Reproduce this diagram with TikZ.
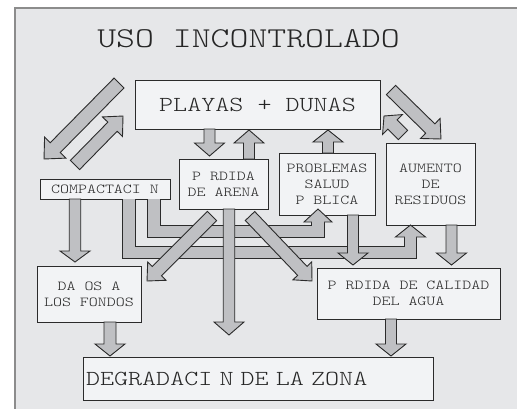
\documentclass[tikz,border=0pt]{standalone}
\usepackage{fontspec}
\setmonofont{lmmonolt10-regular.otf}[FakeStretch=1.25]
\usetikzlibrary{calc}
\definecolor{framebg}{HTML}{E6E7E9}
\definecolor{boxbg}{HTML}{F2F3F5}
\definecolor{arrfill}{HTML}{BFC0C3}
\definecolor{ink}{HTML}{2B2B2B}
\definecolor{txt}{HTML}{262626}
\definecolor{framebd}{HTML}{8C8C8C}
\tikzset{
  boxsty/.style={draw=ink, fill=boxbg, line width=0.9pt, inner sep=0pt, text=txt, align=center,
    font=\ttfamily\fontsize{13.7}{16}\selectfont},
  bigtxt/.style={font=\ttfamily\fontsize{21.4}{26}\selectfont},
  arrsty/.style={draw=ink, fill=arrfill, line width=0.9pt, line join=miter},
  bandout/.style={draw=ink, line width=13.3pt, line join=miter},
  bandin/.style={draw=arrfill, line width=11.5pt, line join=miter}
}
% straight block arrow: #1 tail coord, #2 tip coord, #3 shaft half width, #4 head half width, #5 head length
\newcommand\blkarrow[5]{%
  \pgfpointanchor{#1}{center}\pgfgetlastxy{\axx}{\ayy}%
  \pgfpointanchor{#2}{center}\pgfgetlastxy{\bxx}{\byy}%
  \pgfmathsetmacro\arrang{atan2(\byy-\ayy,\bxx-\axx)}%
  \pgfmathsetmacro\arrlen{veclen(\bxx-\axx,\byy-\ayy)}%
  \begin{scope}[shift={(\axx,\ayy)}, rotate=\arrang]
    \draw[arrsty] (0pt,{-#3pt}) -- ({\arrlen pt-#5pt},{-#3pt}) -- ({\arrlen pt-#5pt},{-#4pt})
      -- (\arrlen pt,0pt) -- ({\arrlen pt-#5pt},{#4pt}) -- ({\arrlen pt-#5pt},{#3pt}) -- (0pt,{#3pt}) -- cycle;
  \end{scope}}
\begin{document}
\begin{tikzpicture}[x=1pt,y=-1pt]
\useasboundingbox (0,0) rectangle (517,408);
\begin{scope}
\clip (0,0) rectangle (517,408);
\fill[framebg] (15,8) rectangle (540,430);
\draw[framebd, line width=1.6pt] (15,430) -- (15,8) -- (540,8);
\end{scope}

\node[text=txt, inner sep=0pt, font=\ttfamily\fontsize{28.8}{34}\selectfont] (title) at (248.5,39) {USO INCONTROLADO};

\node[boxsty, bigtxt, minimum width=245pt, minimum height=49pt] (playas) at (257.5,104.5) {PLAYAS + DUNAS};
\node[boxsty, minimum width=130pt, minimum height=20pt] (comp) at (105,189) {COMPACTACI N};
\node[boxsty, minimum width=89pt, minimum height=50pt] (arena) at (223.5,184) {P RDIDA\\DE ARENA};
\node[boxsty, minimum width=96pt, minimum height=62pt] (salud) at (327,184) {PROBLEMAS\\SALUD\\P BLICA};
\node[boxsty, minimum width=89pt, minimum height=82pt] (resid) at (430.5,184) {AUMENTO\\DE\\RESIDUOS};
\node[boxsty, minimum width=104pt, minimum height=56pt] (danos) at (89,294) {DA OS A\\LOS FONDOS};
\node[boxsty, minimum width=183pt, minimum height=51pt] (calidad) at (408.5,293.5) {P RDIDA DE CALIDAD\\DEL AGUA};
\node[boxsty, bigtxt, text width=344pt, inner xsep=3pt, align=left, minimum height=43pt] (degr) at (258,378.5) {DEGRADACI N DE LA ZONA};

% elbow arrows from COMPACTACION
\coordinate (o1) at (129,199.45);
\coordinate (o2) at (410.5,252.5);
\coordinate (o3) at (410.5,237);
\coordinate (o4) at (410.5,225);
\coordinate (i1) at (154,199.45);
\coordinate (i2) at (318,231.5);
\coordinate (i3) at (318,222);
\coordinate (i4) at (318,209);
\draw[bandout] (o1) |- (o2) -- (o3);
\draw[arrsty] ($(o3)+(-15,0)$) -- ($(o3)+(15,0)$) -- (o4) -- cycle;
\draw[bandin] (o1) |- (o2) -- ($(o3)+(0,-0.6)$);
\draw[bandout] (i1) |- (i2) -- (i3);
\draw[arrsty] ($(i3)+(-14,0)$) -- ($(i3)+(14,0)$) -- (i4) -- cycle;
\draw[bandin] (i1) |- (i2) -- ($(i3)+(0,-0.6)$);

% straight block arrows
\coordinate (a1s) at (119,83);   \coordinate (a1e) at (44,159);
\coordinate (a2s) at (75,165);   \coordinate (a2e) at (123,116);
\coordinate (a3s) at (391,90);   \coordinate (a3e) at (441,139);
\coordinate (a4s) at (403,135);  \coordinate (a4e) at (384,116);
\coordinate (a5s) at (209.5,129); \coordinate (a5e) at (209.5,156);
\coordinate (a6s) at (249,159);  \coordinate (a6e) at (249,130);
\coordinate (a7s) at (328,153);  \coordinate (a7e) at (328,130);
\coordinate (a8s) at (75,199);   \coordinate (a8e) at (75,262);
\coordinate (a9s) at (212,216);  \coordinate (a9e) at (147,281);
\coordinate (a10s) at (229,209); \coordinate (a10e) at (229,335);
\coordinate (a11s) at (250,216); \coordinate (a11e) at (312,281);
\coordinate (a12s) at (353,215); \coordinate (a12e) at (353,265);
\coordinate (a13s) at (451.5,225); \coordinate (a13e) at (451.5,265);
\coordinate (a14s) at (110,322); \coordinate (a14e) at (110,356);
\coordinate (a15s) at (391,319); \coordinate (a15e) at (391,356);

\blkarrow{a1s}{a1e}{7}{15}{16}
\blkarrow{a2s}{a2e}{6.5}{14}{15}
\blkarrow{a3s}{a3e}{6.5}{14}{15}
\blkarrow{a4s}{a4e}{6.5}{14}{12}
\blkarrow{a5s}{a5e}{5.5}{15}{13}
\blkarrow{a6s}{a6e}{5.5}{15}{13}
\blkarrow{a7s}{a7e}{5.5}{15}{12}
\blkarrow{a8s}{a8e}{5.75}{15}{11}
\blkarrow{a9s}{a9e}{6.5}{13}{14}
\blkarrow{a10s}{a10e}{5.75}{15}{13}
\blkarrow{a11s}{a11e}{6.5}{13}{14}
\blkarrow{a12s}{a12e}{5.5}{15}{12}
\blkarrow{a13s}{a13e}{5.5}{15}{12}
\blkarrow{a14s}{a14e}{6}{15}{12}
\blkarrow{a15s}{a15e}{5.5}{15}{12}
\end{tikzpicture}
\end{document}
